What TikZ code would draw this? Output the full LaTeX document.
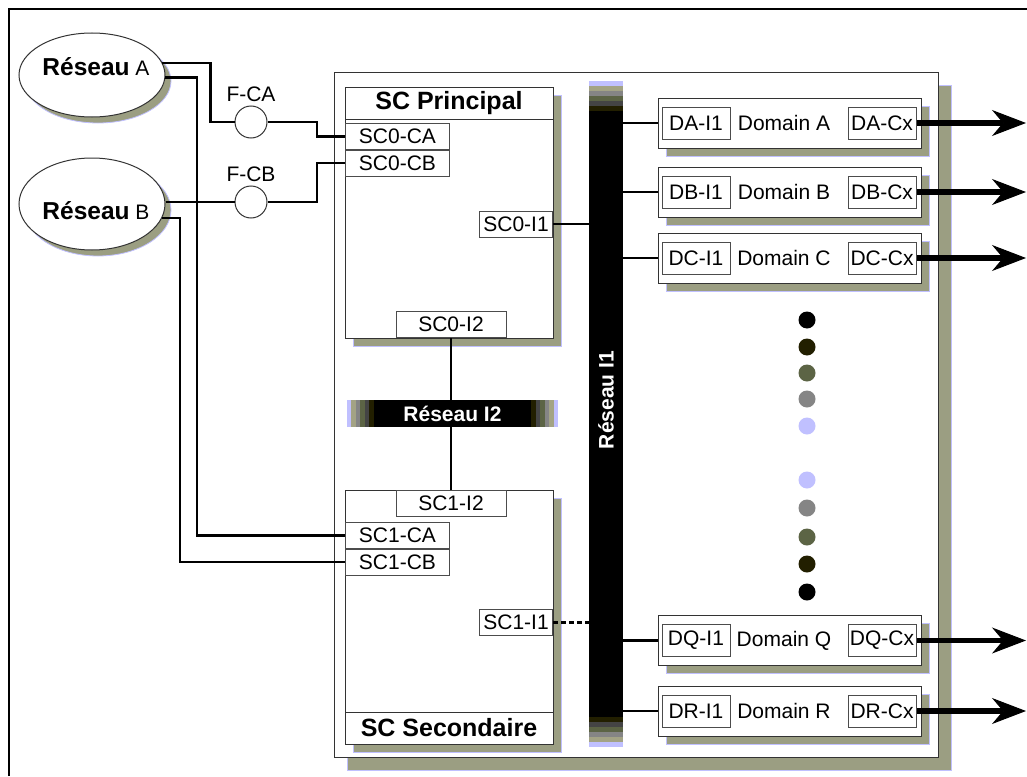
\documentclass[tikz,border=0pt]{standalone}
\usepackage{fontspec}
\setmainfont{Liberation Sans}
\usetikzlibrary{shapes.geometric,shadows,arrows.meta,calc}
\definecolor{shdc}{HTML}{9B9E82}
\definecolor{lav}{HTML}{C0C0FF}
\definecolor{khk}{HTML}{A3A385}
\definecolor{gry}{HTML}{858585}
\definecolor{olv}{HTML}{5C6445}
\definecolor{dkg}{HTML}{444444}
\definecolor{drk}{HTML}{221F00}
\tikzset{
  wire/.style={line width=2.2pt},
  shd/.style={drop shadow={shadow xshift=#1,shadow yshift=-#1,fill=shdc,draw=lav,line width=0.8pt,opacity=1}},
  frm/.style={draw=black!80,line width=1pt,fill=white,inner sep=0pt},
  lbl/.style={font=\fontsize{21}{24}\selectfont},
  prt/.style={draw=black!70,line width=0.9pt,fill=white,inner sep=1pt,minimum height=26pt,lbl},
  dport/.style={prt,minimum width=68pt,minimum height=32pt},
  dombox/.style={frm,shd=8pt,minimum width=263pt,minimum height=50pt},
  ttl/.style={frm,minimum width=208pt,minimum height=32pt,font=\bfseries\fontsize{25}{28}\selectfont},
  net/.style={ellipse,draw=black!80,line width=1pt,fill=white,minimum width=146pt,shd=6pt},
  fuse/.style={circle,draw=black!80,line width=1pt,fill=white,minimum size=32pt,inner sep=0pt},
  bar/.style={fill=black,inner sep=0pt,text=white,font=\bfseries\fontsize{21}{24}\selectfont},
  outarrow/.style={line width=5.5pt,-{Stealth[length=34pt,width=26pt,inset=11pt,line width=1pt]}}
}
\begin{document}
\begin{tikzpicture}[x=1pt,y=-1pt]
    \useasboundingbox (0,0) rectangle (1027,776);
    \draw[line width=1.5pt] (9,776) -- (9,9) -- (1027,9);
    \coordinate (outx) at (1026,0);

    \node[frm,shd=13pt,minimum width=604pt,minimum height=685pt] (sys) at (636,414.5) {};

    \node[net,minimum height=84pt] (resA) at (92,75) {};
    \node[lbl] (resAt) at (96,67) {\textbf{\fontsize{24.5}{26}\selectfont Réseau} A};
    \node[net,minimum height=92pt] (resB) at (92,204) {};
    \node[lbl] (resBt) at (96,211) {\textbf{\fontsize{24.5}{26}\selectfont Réseau} B};

    \node[fuse,label={[lbl]above:F-CA}] (fca) at (251,122) {};
    \node[fuse,label={[lbl]above:F-CB}] (fcb) at (251,202) {};

    \node[frm,shd=8pt,minimum width=208pt,minimum height=251pt] (scp) at (449,212.5) {};
    \node[ttl,anchor=north] (scpt) at (scp.north) {SC Principal};
    \node[prt,minimum width=104pt,anchor=north west] (sc0ca) at (345,123) {SC0-CA};
    \node[prt,minimum width=104pt,anchor=north west] (sc0cb) at (sc0ca.south west) {SC0-CB};
    \node[prt,minimum width=73pt,anchor=east] (sc0i1) at (553,224) {SC0-I1};
    \node[prt,minimum width=110pt,anchor=south] (sc0i2) at (451,338) {SC0-I2};

    \node[frm,shd=8pt,minimum width=208pt,minimum height=254pt] (scs) at (449,617) {};
    \node[ttl,anchor=south] (scst) at (scs.south) {SC Secondaire};
    \node[prt,minimum width=110pt,anchor=north] (sc1i2) at (451,490) {SC1-I2};
    \node[prt,minimum width=104pt,anchor=north west] (sc1ca) at (345,522) {SC1-CA};
    \node[prt,minimum width=104pt,anchor=north west] (sc1cb) at (sc1ca.south west) {SC1-CB};
    \node[prt,minimum width=73pt,anchor=east] (sc1i1) at (553,622.5) {SC1-I1};

    \node[bar,minimum width=211pt,minimum height=27pt] (rI2) at (452.5,413.5) {Réseau I2};
    \node[bar,minimum width=34pt,minimum height=666pt] (rI1) at (606,414) {};
    \foreach \col [count=\i] in {lav,khk,gry,olv,dkg,drk}{
        \fill[\col] ($(rI1.north west)+(0,{(\i-1)*5})$) rectangle ($(rI1.north east)+(0,{\i*5})$);
        \fill[\col] ($(rI1.south west)+(0,{-(\i-1)*5})$) rectangle ($(rI1.south east)+(0,{-\i*5})$);
        \fill[\col] ($(rI2.north west)+({(\i-1)*4.5},0)$) rectangle ($(rI2.south west)+({\i*4.5},0)$);
        \fill[\col] ($(rI2.north east)+({-(\i-1)*4.5},0)$) rectangle ($(rI2.south east)+({-\i*4.5},0)$);
    }
    \node[bar,rotate=90] (rI1t) at (606,400) {Réseau I1};

    \foreach \dm/\y in {A/123,B/192,C/258,Q/640.5,R/711}{
        \node[dombox] (d\dm) at (789.5,\y) {};
        \node[dport,anchor=west] (d\dm-i) at ([xshift=4pt]d\dm.west) {D\dm-I1};
        \node[dport,anchor=east] (d\dm-c) at ([xshift=-5pt]d\dm.east) {D\dm-Cx};
        \node[lbl] (d\dm-t) at (784,\y) {Domain \dm};
        \draw[wire] (rI1.east |- d\dm.west) -- (d\dm.west);
        \draw[outarrow] (d\dm-c.east) -- (d\dm-c.east -| outx);
    }

    \foreach \col/\y in {black/320,drk/347,olv/373,gry/399,lav/426,lav/480,gry/508,olv/537,drk/564,black/592}
        \fill[\col] (807,\y) circle (8.5pt);

    \draw[wire] (resA.10) -| ($(fca.west)+(-24,0)$) -- (fca.west);
    \draw[wire] (fca.east) -| ($(sc0ca.west)+(-28,0)$) -- (sc0ca.west);
    \draw[wire] (resB.east |- fcb.west) -- (fcb.west);
    \draw[wire] (fcb.east) -| ($(sc0cb.west)+(-28,0)$) -- (sc0cb.west);
    \draw[wire] (resA.-2) -| ($(sc1ca.west)+(-148,0)$) -- (sc1ca.west);
    \draw[wire] (resB.-11) -| ($(sc1cb.west)+(-165,0)$) -- (sc1cb.west);
    \draw[wire] (sc0i2.south) -- (sc0i2.south |- rI2.north);
    \draw[wire] (rI2.south -| sc1i2.north) -- (sc1i2.north);
    \draw[wire] (sc0i1.east) -- (sc0i1.east -| rI1.west);
    \draw[wire,dash pattern=on 5pt off 3pt] (sc1i1.east) -- (sc1i1.east -| rI1.west);
\end{tikzpicture}
\end{document}
